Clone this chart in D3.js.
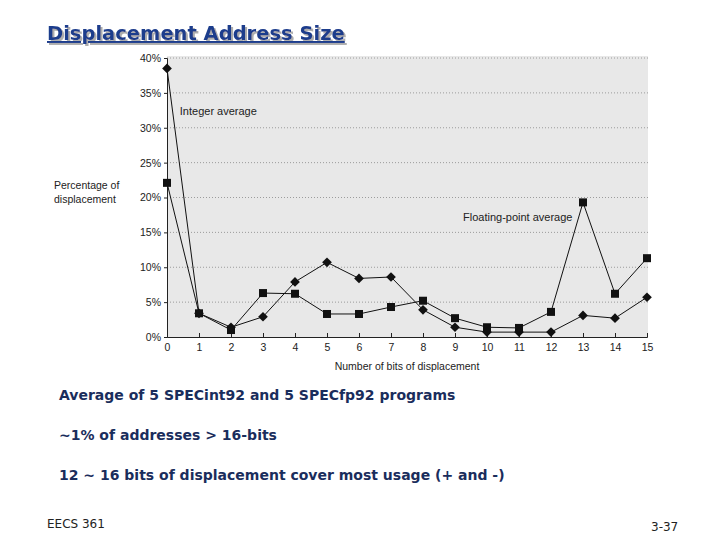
<!DOCTYPE html>
<html>
<head>
<meta charset="utf-8">
<script src="https://cdn.jsdelivr.net/npm/d3@7"></script>
<style>
  body { margin: 0; background: #fff; }
  svg { display: block; }
</style>
</head>
<body>
<div id="slide"></div>
<script>
// chart data (percent of displacements per bit count)
var bits = d3.range(0, 16);
var intAvg = [38.5, 3.4, 1.4, 2.9, 7.9, 10.7, 8.4, 8.6, 3.9, 1.4, 0.7, 0.7, 0.7, 3.1, 2.7, 5.7];
var fpAvg = [22.1, 3.4, 1.0, 6.3, 6.2, 3.3, 3.3, 4.3, 5.2, 2.7, 1.4, 1.3, 3.6, 19.3, 6.2, 11.3];
var yTicks = [0, 5, 10, 15, 20, 25, 30, 35, 40];
var bullets = [
  "Average of 5 SPECint92 and 5 SPECfp92 programs",
  "~1% of addresses > 16-bits",
  "12 ~ 16 bits of displacement cover most usage (+ and -)"
];

var svgWidth = 720;
var svgHeight = 540;

var margin = { top: 58, right: 73, bottom: 203, left: 167 };
var width = svgWidth - margin.left - margin.right;
var height = svgHeight - margin.top - margin.bottom;

var svg = d3.select("#slide")
  .append("svg")
  .attr("width", svgWidth)
  .attr("height", svgHeight);

// drop shadow for the title
var shadow = svg.append("defs")
  .append("filter")
  .attr("id", "shadow")
  .attr("x", "-5%").attr("y", "-20%")
  .attr("width", "110%").attr("height", "150%");
shadow.append("feDropShadow")
  .attr("dx", 2)
  .attr("dy", 2)
  .attr("stdDeviation", 0.6)
  .attr("flood-color", "#999")
  .attr("flood-opacity", 0.8);

var titleFont = "'DejaVu Sans', Verdana, sans-serif";
svg.append("text")
  .attr("x", 47)
  .attr("y", 40)
  .attr("font-family", titleFont)
  .attr("font-weight", "bold")
  .attr("font-size", "19.5px")
  .attr("fill", "#1c3c8c")
  .attr("text-decoration", "underline")
  .attr("filter", "url(#shadow)")
  .text("Displacement Address Size");

var chartGroup = svg.append("g")
  .attr("transform", `translate(${margin.left}, ${margin.top})`);

var xScale = d3.scaleLinear().domain([0, 15]).range([0, width]);
var yScale = d3.scaleLinear().domain([0, 40]).range([height, 0]);

// gray plotting area
chartGroup.append("rect")
  .attr("x", 0)
  .attr("y", -2)
  .attr("width", width + 1)
  .attr("height", height + 2)
  .attr("fill", "#e8e8e8");

// dotted grid
chartGroup.selectAll(".grid")
  .data(yTicks.filter(d => d > 0))
  .enter()
  .append("line")
  .attr("x1", 0)
  .attr("x2", width + 1)
  .attr("y1", d => yScale(d))
  .attr("y2", d => yScale(d))
  .attr("stroke", "#888")
  .attr("stroke-width", 0.8)
  .attr("stroke-dasharray", "1,2");

var axisFont = "'Liberation Sans', Arial, sans-serif";

// y axis
var leftAxis = d3.axisLeft(yScale)
  .tickValues(yTicks)
  .tickSize(3)
  .tickPadding(3)
  .tickFormat(d => d + "%");
var yAxis = chartGroup.append("g").call(leftAxis);

// x axis
var bottomAxis = d3.axisBottom(xScale)
  .tickValues(bits)
  .tickSize(-4)
  .tickPadding(7)
  .tickFormat(d3.format("d"));
var xAxis = chartGroup.append("g")
  .attr("transform", `translate(0, ${height})`)
  .call(bottomAxis);

[xAxis, yAxis].forEach(a => {
  a.selectAll("text")
    .attr("font-family", axisFont)
    .attr("font-size", "10.5px")
    .attr("fill", "#222");
  a.selectAll("line,path").attr("stroke", "#222");
});

// axis titles
svg.append("text")
  .attr("x", 54)
  .attr("y", 189)
  .attr("font-family", axisFont)
  .attr("font-size", "10.5px")
  .attr("fill", "#222")
  .text("Percentage of");
svg.append("text")
  .attr("x", 54)
  .attr("y", 203)
  .attr("font-family", axisFont)
  .attr("font-size", "10.5px")
  .attr("fill", "#222")
  .text("displacement");

chartGroup.append("text")
  .attr("x", width / 2)
  .attr("y", height + 33)
  .attr("text-anchor", "middle")
  .attr("font-family", axisFont)
  .attr("font-size", "10.5px")
  .attr("fill", "#222")
  .text("Number of bits of displacement");

// lines
var line = d3.line()
  .x((d, i) => xScale(bits[i]))
  .y(d => yScale(d));

chartGroup.append("path")
  .datum(fpAvg)
  .attr("d", line)
  .attr("fill", "none")
  .attr("stroke", "#111")
  .attr("stroke-width", 1);

chartGroup.append("path")
  .datum(intAvg)
  .attr("d", line)
  .attr("fill", "none")
  .attr("stroke", "#111")
  .attr("stroke-width", 1);

// square markers (floating point)
chartGroup.selectAll(".fp")
  .data(fpAvg)
  .enter()
  .append("rect")
  .attr("x", (d, i) => xScale(bits[i]) - 4)
  .attr("y", d => yScale(d) - 4)
  .attr("width", 8)
  .attr("height", 8)
  .attr("fill", "#111");

// diamond markers (integer)
var diamond = d3.symbol().type(d3.symbolDiamond2).size(60);
chartGroup.selectAll(".int")
  .data(intAvg)
  .enter()
  .append("path")
  .attr("d", diamond)
  .attr("transform", (d, i) => `translate(${xScale(bits[i])}, ${yScale(d)})`)
  .attr("fill", "#111");

// series labels
chartGroup.append("text")
  .attr("x", xScale(0.4))
  .attr("y", yScale(31.8))
  .attr("font-family", axisFont)
  .attr("font-size", "11px")
  .attr("fill", "#222")
  .text("Integer average");

chartGroup.append("text")
  .attr("x", xScale(9.25))
  .attr("y", yScale(16.6))
  .attr("font-family", axisFont)
  .attr("font-size", "11px")
  .attr("fill", "#222")
  .text("Floating-point average");

// bullet lines
var bodyFont = "'DejaVu Sans', Verdana, sans-serif";
svg.selectAll(".bullet")
  .data(bullets)
  .enter()
  .append("text")
  .attr("x", 59)
  .attr("y", (d, i) => 400 + i * 40)
  .attr("font-family", bodyFont)
  .attr("font-weight", "bold")
  .attr("font-size", "14px")
  .attr("fill", "#1a2d5c")
  .text(d => d);

// footer
svg.append("text")
  .attr("x", 47)
  .attr("y", 528)
  .attr("font-family", bodyFont)
  .attr("font-size", "12px")
  .attr("fill", "#222")
  .text("EECS 361");

svg.append("text")
  .attr("x", 651)
  .attr("y", 531)
  .attr("font-family", bodyFont)
  .attr("font-size", "12px")
  .attr("fill", "#222")
  .text("3-37");
</script>
</body>
</html>
